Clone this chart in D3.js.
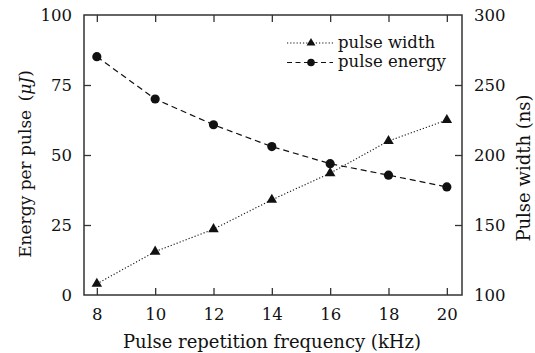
<!DOCTYPE html>
<html>
<head>
<meta charset="utf-8">
<script src="https://cdn.jsdelivr.net/npm/d3@7"></script>
<style>
  body { margin: 0; background: #fff; }
  svg text { font-family: "DejaVu Serif", serif; fill: #111; }
</style>
</head>
<body>
<div id="chart"></div>
<script>
// data
const freq = [8, 10, 12, 14, 16, 18, 20];
const pulseEnergy = [85.1, 70.0, 60.8, 53.0, 46.9, 42.8, 38.6];   // uJ, left axis
const pulseWidth = [108, 131, 147, 168, 187, 210, 225];           // ns, right axis
const xTicks = [8, 10, 12, 14, 16, 18, 20];
const leftTicks = [0, 25, 50, 75, 100];
const rightTicks = [100, 150, 200, 250, 300];

const width = 535, height = 353;
const plot = { left: 84, right: 462, top: 15, bottom: 295 };

const svg = d3.select("#chart").append("svg")
    .attr("width", width)
    .attr("height", height);

const x = d3.scaleLinear().domain([7.56, 20.52]).range([plot.left, plot.right]);
const yL = d3.scaleLinear().domain([0, 100]).range([plot.bottom, plot.top]);
const yR = d3.scaleLinear().domain([100, 300]).range([plot.bottom, plot.top]);

const tickFs = 16.5;
const titleFs = 18;
const frameColor = "#333";

// inward ticks
const tickLen = 7;
const bottomAxis = d3.axisBottom(x).tickValues(xTicks).tickSizeInner(-tickLen).tickSizeOuter(0).tickPadding(13);
const topAxis = d3.axisTop(x).tickValues(xTicks).tickSizeInner(-tickLen).tickSizeOuter(0).tickFormat("");
const leftAxis = d3.axisLeft(yL).tickValues(leftTicks).tickSizeInner(-tickLen).tickSizeOuter(0).tickPadding(12);
const rightAxis = d3.axisRight(yR).tickValues(rightTicks).tickSizeInner(-tickLen).tickSizeOuter(0).tickPadding(12);

function styleAxis(g) {
    g.select(".domain").remove();
    g.selectAll(".tick line").attr("stroke", frameColor).attr("stroke-width", 1.3);
    g.selectAll(".tick text").attr("font-size", tickFs).attr("font-family", "DejaVu Serif").attr("fill", "#111");
}

svg.append("g").attr("transform", `translate(0,${plot.bottom})`).call(bottomAxis).call(styleAxis);
svg.append("g").attr("transform", `translate(0,${plot.top})`).call(topAxis).call(styleAxis);
svg.append("g").attr("transform", `translate(${plot.left},0)`).call(leftAxis).call(styleAxis);
svg.append("g").attr("transform", `translate(${plot.right},0)`).call(rightAxis).call(styleAxis);

// hide end ticks that sit on the frame
svg.selectAll(".tick line").filter(function () {
    const t = d3.select(this.parentNode).datum();
    return t === 0 || t === 100 || t === 300;
}).remove();

// frame
svg.append("rect")
    .attr("x", plot.left).attr("y", plot.top)
    .attr("width", plot.right - plot.left).attr("height", plot.bottom - plot.top)
    .attr("fill", "none").attr("stroke", frameColor).attr("stroke-width", 1.5);

// axis titles
svg.append("text")
    .attr("x", 272).attr("y", 348)
    .attr("text-anchor", "middle").attr("font-size", titleFs)
    .text("Pulse repetition frequency (kHz)");

svg.append("text")
    .attr("transform", `translate(31,164) rotate(-90)`)
    .attr("text-anchor", "middle").attr("font-size", 17)
    .html('Energy per pulse\u2002(<tspan font-style="italic">\u03bcJ</tspan>)');

svg.append("text")
    .attr("transform", `translate(530,168) rotate(-90)`)
    .attr("text-anchor", "middle").attr("font-size", titleFs)
    .text("Pulse width (ns)");

// series
const widthLine = d3.line().x((d, i) => x(freq[i])).y(d => yR(d));
const energyLine = d3.line().x((d, i) => x(freq[i])).y(d => yL(d));

svg.append("path")
    .datum(pulseWidth)
    .attr("d", widthLine)
    .attr("fill", "none").attr("stroke", "#111").attr("stroke-width", 1.1)
    .attr("stroke-dasharray", "1.2,2");

svg.append("path")
    .datum(pulseEnergy)
    .attr("d", energyLine)
    .attr("fill", "none").attr("stroke", "#111").attr("stroke-width", 1.2)
    .attr("stroke-dasharray", "6,4");

const tri = d3.symbol().type(d3.symbolTriangle).size(48);

svg.selectAll(".tri")
    .data(pulseWidth)
    .enter().append("path")
    .attr("class", "tri")
    .attr("transform", (d, i) => `translate(${x(freq[i])},${yR(d)})`)
    .attr("d", tri)
    .attr("fill", "#111");

svg.selectAll(".dot")
    .data(pulseEnergy)
    .enter().append("circle")
    .attr("class", "dot")
    .attr("cx", (d, i) => x(freq[i]))
    .attr("cy", d => yL(d))
    .attr("r", 4.6)
    .attr("fill", "#111");

// legend
const legend = svg.append("g");
const legY = [43, 62.5];
const legFs = 16.5;

legend.append("line")
    .attr("x1", 287).attr("x2", 333).attr("y1", legY[0]).attr("y2", legY[0])
    .attr("stroke", "#111").attr("stroke-width", 1.1).attr("stroke-dasharray", "1.2,2");
legend.append("path")
    .attr("transform", `translate(311,${legY[0]})`)
    .attr("d", d3.symbol().type(d3.symbolTriangle).size(34)).attr("fill", "#111");
legend.append("text")
    .attr("x", 338).attr("y", legY[0] + 4.5).attr("font-size", legFs)
    .text("pulse width");

legend.append("line")
    .attr("x1", 287).attr("x2", 333).attr("y1", legY[1]).attr("y2", legY[1])
    .attr("stroke", "#111").attr("stroke-width", 1.2).attr("stroke-dasharray", "5,3.5");
legend.append("circle")
    .attr("cx", 311).attr("cy", legY[1]).attr("r", 3.8).attr("fill", "#111");
legend.append("text")
    .attr("x", 338).attr("y", legY[1] + 4.5).attr("font-size", legFs)
    .text("pulse energy");
</script>
</body>
</html>
